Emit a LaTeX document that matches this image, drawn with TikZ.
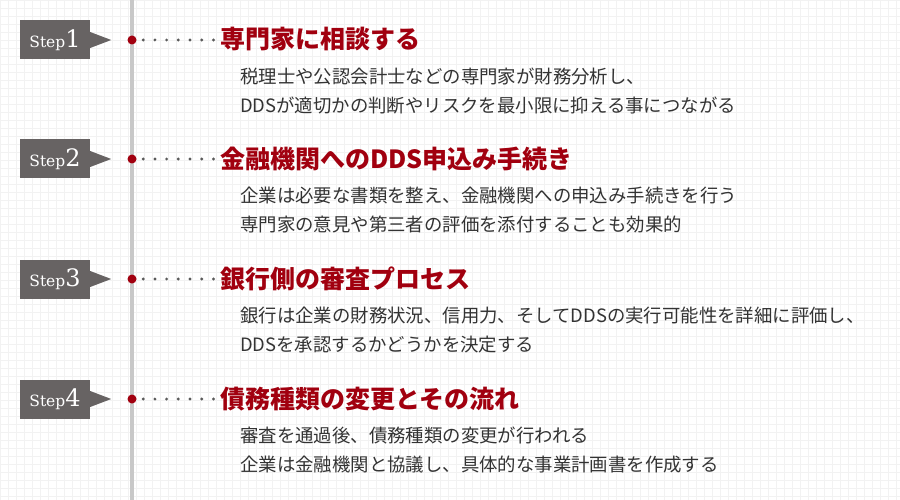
\documentclass[tikz,border=0pt]{standalone}
\usepackage{fontspec}
\usetikzlibrary{positioning}
\newfontfamily\jpfont{Noto Sans CJK JP}
\newfontfamily\stepfont{DejaVu Serif}
\definecolor{stepred}{HTML}{A1000F}
\definecolor{boxgray}{HTML}{676363}
\definecolor{railgray}{HTML}{C8C8C8}
\definecolor{dotgray}{HTML}{5A5A5A}
\definecolor{bodytext}{HTML}{333333}
\definecolor{gridgray}{HTML}{F2F2F2}
\newcommand{\steplabel}[1]{{\stepfont\fontsize{15.5}{15.5}\selectfont Step}{\stepfont\fontsize{24}{24}\selectfont #1}}
\begin{document}
\begin{tikzpicture}[
        x=1pt, y=-1pt,
        stepbox/.style = {rectangle, fill=boxgray, text=white, minimum width=70pt, minimum height=39pt, inner sep=0pt}, % Ярлык шага
        point/.style = {circle, fill=stepred, minimum size=9pt, inner sep=0pt},
        head/.style = {anchor=west, inner sep=0pt, text=stepred, text height=21pt, text depth=3pt,
                font=\jpfont\bfseries\fontsize{25}{25}\selectfont},
        body/.style = {anchor=west, inner sep=0pt, text=bodytext, text height=15.5pt, text depth=2pt,
                font=\jpfont\fontsize{18.4}{18.4}\selectfont},
        leader/.style = {draw=dotgray, line width=3.2pt, line cap=round, dash pattern=on 0pt off 11.7pt,
                shorten <=6.5pt, shorten >=5pt},
    ]
    \useasboundingbox (0,0) rectangle (900,500);
    \fill[white] (0,0) rectangle (900,500);
    \draw[gridgray, line width=0.6pt] (0,0) grid[step=8pt] (900,500);
    \draw[railgray, line width=4pt] (132,0) -- (132,500);

    % Шаг 1
    \node[stepbox] (s1) at (55,40) {\steplabel{1}};
    \fill[boxgray] ([yshift=8pt]s1.east) -- ([xshift=21pt]s1.east) -- ([yshift=-8pt]s1.east) -- cycle;
    \node[point] (d1) at (132,40) {};
    \node[head] (t1) at (220,40) {専門家に相談する};
    \node[body] (b1a) at (240,77) {税理士や公認会計士などの専門家が財務分析し、};
    \node[body] (b1b) at (240,106) {DDSが適切かの判断やリスクを最小限に抑える事につながる};
    \draw[leader] (d1.east) -- (t1.west);

    % Шаг 2
    \node[stepbox] (s2) at (55,159) {\steplabel{2}};
    \fill[boxgray] ([yshift=8pt]s2.east) -- ([xshift=21pt]s2.east) -- ([yshift=-8pt]s2.east) -- cycle;
    \node[point] (d2) at (132,159) {};
    \node[head] (t2) at (220,159) {金融機関へのDDS申込み手続き};
    \node[body] (b2a) at (240,196) {企業は必要な書類を整え、金融機関への申込み手続きを行う};
    \node[body] (b2b) at (240,225) {専門家の意見や第三者の評価を添付することも効果的};
    \draw[leader] (d2.east) -- (t2.west);

    % Шаг 3
    \node[stepbox] (s3) at (55,279) {\steplabel{3}};
    \fill[boxgray] ([yshift=8pt]s3.east) -- ([xshift=21pt]s3.east) -- ([yshift=-8pt]s3.east) -- cycle;
    \node[point] (d3) at (132,279) {};
    \node[head] (t3) at (220,279) {銀行側の審査プロセス};
    \node[body] (b3a) at (240,316) {銀行は企業の財務状況、信用力、そしてDDSの実行可能性を詳細に評価し、};
    \node[body] (b3b) at (240,345) {DDSを承認するかどうかを決定する};
    \draw[leader] (d3.east) -- (t3.west);

    % Шаг 4
    \node[stepbox] (s4) at (55,399) {\steplabel{4}};
    \fill[boxgray] ([yshift=8pt]s4.east) -- ([xshift=21pt]s4.east) -- ([yshift=-8pt]s4.east) -- cycle;
    \node[point] (d4) at (132,399) {};
    \node[head] (t4) at (220,399) {債務種類の変更とその流れ};
    \node[body] (b4a) at (240,436) {審査を通過後、債務種類の変更が行われる};
    \node[body] (b4b) at (240,465) {企業は金融機関と協議し、具体的な事業計画書を作成する};
    \draw[leader] (d4.east) -- (t4.west);
\end{tikzpicture}
\end{document}
